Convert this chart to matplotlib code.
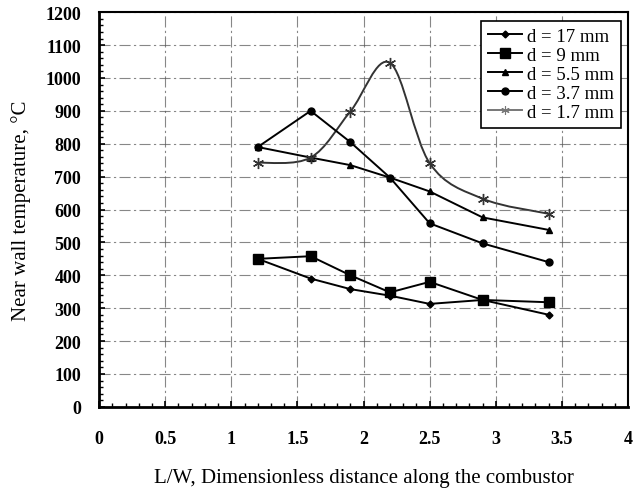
import numpy as np
import matplotlib
matplotlib.use("Agg")
import matplotlib.pyplot as plt
from matplotlib.path import Path
from matplotlib.patches import PathPatch
from matplotlib.ticker import MultipleLocator, FuncFormatter

x = [1.2, 1.6, 1.9, 2.2, 2.5, 2.9, 3.4]
d17 = [450, 390, 358, 338, 313, 325, 280]
d9 = [450, 458, 400, 348, 380, 325, 318]
d55 = [790, 758, 735, 697, 655, 576, 538]
d37 = [790, 900, 805, 697, 558, 497, 440]
d17mm = [742, 758, 898, 1046, 741, 633, 587]
labels = ["d = 17 mm", "d = 9 mm", "d = 5.5 mm", "d = 3.7 mm", "d = 1.7 mm"]

plt.rcParams['font.family'] = ['Liberation Serif', 'DejaVu Serif']

fig = plt.figure(figsize=(6.35, 4.89), dpi=100)
ax = fig.add_axes([0.156, 0.166, 0.833, 0.807])

def smooth_path(xs, ys, t=0.5):
    xs = np.asarray(xs, float); ys = np.asarray(ys, float)
    n = len(xs)
    verts = [(xs[0], ys[0])]
    codes = [Path.MOVETO]
    for i in range(n - 1):
        p0 = np.array([xs[max(i - 1, 0)], ys[max(i - 1, 0)]])
        p1 = np.array([xs[i], ys[i]])
        p2 = np.array([xs[i + 1], ys[i + 1]])
        p3 = np.array([xs[min(i + 2, n - 1)], ys[min(i + 2, n - 1)]])
        c1 = p1 + (p2 - p0) * t / 3
        c2 = p2 - (p3 - p1) * t / 3
        verts += [tuple(c1), tuple(c2), tuple(p2)]
        codes += [Path.CURVE4] * 3
    return Path(verts, codes)

k = dict(color='black', lw=1.4)
ax.plot(x, d17, marker='D', ms=3.5, label=labels[0], **k)
ax.plot(x, d9, marker='s', ms=6.5, label=labels[1], **k)
ax.plot(x, d55, marker='^', ms=5, label=labels[2], **k)
ax.plot(x, d37, marker='o', ms=5, label=labels[3], **k)
star_col = '#333333'
ax.add_patch(PathPatch(smooth_path(x, d17mm), fill=False, edgecolor=star_col, lw=1.4))
ax.plot(x, d17mm, ls='none', marker=(6, 2, 0), ms=8, mec=star_col, mew=1.0)
ax.plot([], [], color='#777777', lw=1.4, marker=(6, 2, 0), ms=6, mew=0.8, label=labels[4])

ax.set_xlim(0, 4)
ax.set_ylim(0, 1200)
ax.xaxis.set_major_locator(MultipleLocator(0.5))
ax.xaxis.set_minor_locator(MultipleLocator(0.1))
ax.yaxis.set_major_locator(MultipleLocator(100))
ax.yaxis.set_minor_locator(MultipleLocator(20))
ax.xaxis.set_major_formatter(FuncFormatter(lambda v, p: f"{v:g}"))
ax.tick_params(axis='both', which='both', direction='in', color='black')
ax.tick_params(axis='both', which='major', length=4, width=1.2, labelsize=13)
ax.tick_params(axis='both', which='minor', length=3, width=1.0)
ax.tick_params(axis='y', which='major', pad=13)
ax.tick_params(axis='x', which='major', pad=17)
for lab in ax.get_xticklabels() + ax.get_yticklabels():
    lab.set_fontweight('bold')

ax.grid(True, which='major', axis='both', color='#555555', lw=0.8,
        ls=(0, (10, 3, 2, 3)), alpha=0.7)
for s in ['left', 'bottom']:
    ax.spines[s].set_linewidth(2.0)
for s in ['top', 'right']:
    ax.spines[s].set_linewidth(1.5)

ax.set_ylabel("Near wall temperature, \u00b0C", fontsize=15)
ax.set_xlabel("L/W, Dimensionless distance along the combustor", fontsize=15)
ax.yaxis.label.set_va('center')
ax.yaxis.set_label_coords(-0.147, 0.5)
ax.xaxis.label.set_va('center')
ax.xaxis.set_label_coords(0.5, -0.178)

leg = ax.legend(loc='upper right', bbox_to_anchor=(0.986, 0.977), borderaxespad=0,
                fontsize=13.5, frameon=True, fancybox=False, edgecolor='black',
                framealpha=1, handlelength=1.8, handletextpad=0.3,
                labelspacing=0.1, borderpad=0.35)
leg.get_frame().set_linewidth(1.2)

fig.savefig("out.png", dpi=100)
